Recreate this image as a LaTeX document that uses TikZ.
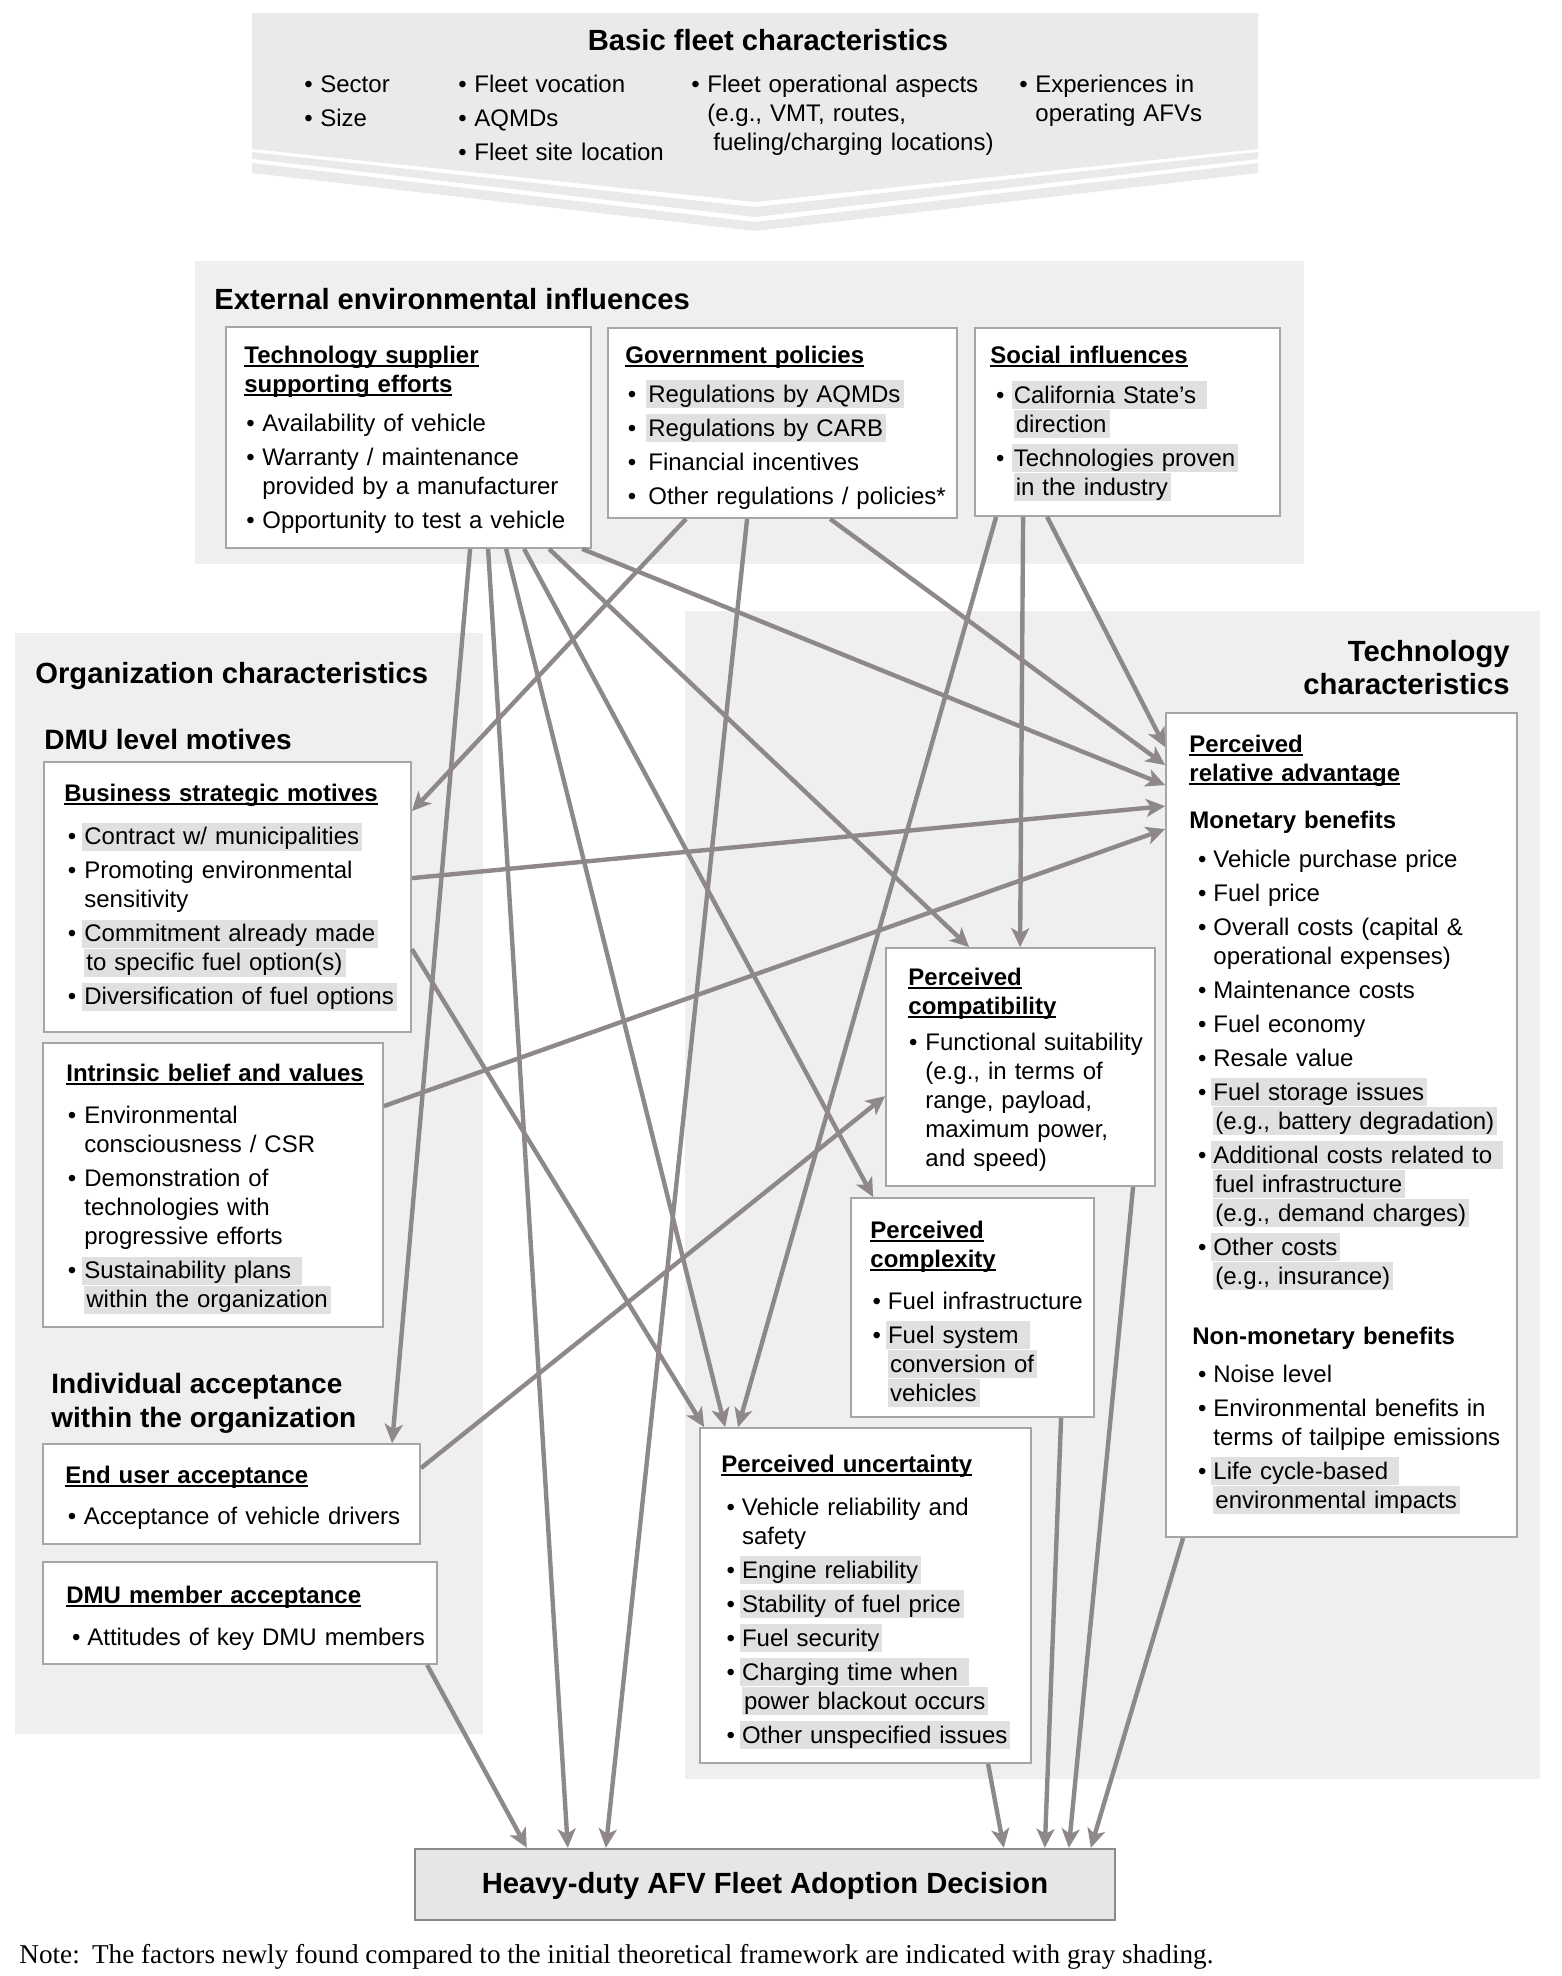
\documentclass[tikz,border=0pt]{standalone}
\usepackage{fontspec}
\setmainfont{Liberation Sans}
\newfontfamily\notefont{Liberation Serif}
\usepackage{graphicx}
\usetikzlibrary{arrows.meta,calc,fit}
\definecolor{panelgray}{HTML}{EFEFEF}
\definecolor{bannergray}{HTML}{EAEAEA}
\definecolor{hlgray}{HTML}{E0E0E0}
\definecolor{boxline}{HTML}{A6A6A6}
\definecolor{arrowgray}{HTML}{8E8888}
\definecolor{decfill}{HTML}{E6E6E6}
\definecolor{decline}{HTML}{8A8A8A}
\newlength\bulind
\newlength\itind
\newcommand\hl[1]{\kern-1pt{\setlength{\fboxsep}{0pt}\colorbox{hlgray}{\rule[-3pt]{0pt}{14pt}\kern1pt#1\kern1.5pt}}\kern-1.5pt}
\newcommand\ulx[1]{\leavevmode\setbox0=\hbox{#1}\rlap{\rule[-2pt]{\wd0}{0.8pt}}\box0}
\newcommand\itmf[1]{\hangindent=\itind\hangafter=1\noindent\hbox to \itind{\hskip\bulind\textbullet\hss}#1}
\newcommand\itm[1]{\par\itmf{#1}}
\newcommand\ttl[1]{\textbf{\ulx{#1}}}
\tikzset{
  panel/.style={fill=panelgray, draw=none, inner sep=0pt},
  box/.style={draw=boxline, line width=0.9pt, fill=white, inner sep=0pt},
  txt/.style={anchor=base west, inner sep=0pt, align=left, font=\fontsize{12}{14.5}\selectfont,
    execute at begin node={\setlength{\parskip}{2.5pt}}},
  head/.style={anchor=base west, inner sep=0pt, font=\bfseries\fontsize{14.6}{17}\selectfont},
  subhead/.style={anchor=base west, inner sep=0pt, font=\bfseries\fontsize{14}{17}\selectfont},
  arr/.style={draw=arrowgray, line width=2.2pt, -{Stealth[length=9.5pt,width=9pt,inset=2.5pt]}},
}
\begin{document}
\begin{tikzpicture}[x=0.5pt,y=-0.5pt]
\useasboundingbox (0,0) rectangle (1562,1976);

% ---------- panels ----------
\node[panel, fit={(195,261) (1304,564)}] (extp) {};
\node[panel, fit={(15,633) (483,1734)}] (orgp) {};
\node[panel, fit={(685,611) (1540,1779)}] (techp) {};

% ---------- banner ----------
\fill[bannergray] (252,13) -- (1258,13) -- (1258,149) -- (755,202) -- (252,149) -- cycle;
\fill[bannergray] (252,152) -- (755,207) -- (1258,152) -- (1258,159) -- (755,217) -- (252,159) -- cycle;
\fill[bannergray] (252,163) -- (755,222) -- (1258,163) -- (1258,173) -- (755,231) -- (252,173) -- cycle;
\node[head, anchor=base] (bfc-h) at (768,50) {Basic fleet characteristics};
\node[txt, text width=120pt] (bfc-c1) at (304,92) {\setlength\bulind{0pt}\setlength\itind{8pt}\itmf{Sector}\itm{Size}\par};
\node[txt, text width=140pt] (bfc-c2) at (458,92) {\setlength\bulind{0pt}\setlength\itind{8pt}\itmf{Fleet vocation}\itm{AQMDs}\itm{Fleet site location}\par};
\node[txt, text width=180pt] (bfc-c3) at (691,92) {\setlength\bulind{0pt}\setlength\itind{8pt}\itmf{Fleet operational aspects\newline(e.g., VMT, routes,\newline\hspace*{3pt}fueling/charging locations)}\par};
\node[txt, text width=120pt] (bfc-c4) at (1019,92) {\setlength\bulind{0pt}\setlength\itind{8pt}\itmf{Experiences in\newline operating AFVs}\par};

% ---------- panel headings ----------
\node[head] (ext-h) at (214,309) {External environmental influences};
\node[head] (org-h) at (35,683) {Organization characteristics};
\node[subhead] (dmu-h) at (44,749) {DMU level motives};
\node[subhead] (ind-h1) at (51,1393) {Individual acceptance};
\node[subhead] (ind-h2) at (51,1427) {within the organization};
\node[head, anchor=base east] (tech-h1) at (1510,661) {Technology};
\node[head, anchor=base east] (tech-h2) at (1510,694) {characteristics};

% ---------- boxes ----------
\node[box, fit={(226,327) (591,548)}] (ts) {};
\node[box, fit={(608,328) (957,518)}] (gp) {};
\node[box, fit={(975,328) (1280,516)}] (si) {};
\node[box, fit={(44,762) (411,1032)}] (bsm) {};
\node[box, fit={(43,1043) (383,1327)}] (ibv) {};
\node[box, fit={(43,1444) (420,1544)}] (eua) {};
\node[box, fit={(43,1562) (437,1664)}] (dmu) {};
\node[box, fit={(1166,713) (1517,1537)}] (pra) {};
\node[box, fit={(886,948) (1155,1186)}] (pco) {};
\node[box, fit={(851,1198) (1094,1417)}] (pcx) {};
\node[box, fit={(700,1428) (1031,1763)}] (pu) {};
\node[fit={(415,1849) (1115,1920)}, draw=decline, fill=decfill, line width=1.2pt, inner sep=0pt] (dec) {};

% ---------- box texts ----------
\node[txt, text width=190pt] (ts-txt) at (244,363) {\setlength\bulind{1pt}\setlength\itind{9pt}%
\ttl{Technology supplier}\newline\ttl{supporting efforts}\par\vspace{2.5pt}%
\itm{Availability of vehicle}%
\itm{Warranty / maintenance\newline provided by a manufacturer}%
\itm{Opportunity to test a vehicle}\par};

\node[txt, text width=185pt] (gp-txt) at (625,363) {\setlength\bulind{1.2pt}\setlength\itind{11.5pt}%
\ttl{Government policies}\par\vspace{2.5pt}%
\itm{\hl{Regulations by AQMDs}}%
\itm{\hl{Regulations by CARB}}%
\itm{Financial incentives}%
\itm{Other regulations / policies*}\par};

\node[txt, text width=170pt] (si-txt) at (990,363) {\setlength\bulind{2.8pt}\setlength\itind{11.7pt}%
\ttl{Social influences}\par\vspace{3pt}%
\itm{\hl{California State’s }\newline\hl{direction}}%
\itm{\hl{Technologies proven}\newline\hl{in the industry}}\par};

\node[txt, text width=190pt] (bsm-txt) at (64,801) {\setlength\bulind{1.8pt}\setlength\itind{10pt}%
\ttl{Business strategic motives}\par\vspace{4.8pt}%
\itm{\hl{Contract w/ municipalities}}%
\itm{Promoting environmental\newline sensitivity}%
\itm{\hl{Commitment already made}\newline\hl{to specific fuel option(s)}}%
\itm{\hl{Diversification of fuel options}}\par};

\node[txt, text width=175pt] (ibv-txt) at (66,1081) {\setlength\bulind{0.8pt}\setlength\itind{9pt}%
\ttl{Intrinsic belief and values}\par\vspace{4.3pt}%
\itm{Environmental\newline consciousness / CSR}%
\itm{Demonstration of\newline technologies with\newline progressive efforts}%
\itm{\hl{Sustainability plans }\newline\hl{within the organization}}\par};

\node[txt, text width=190pt] (eua-txt) at (65,1483) {\setlength\bulind{1.3pt}\setlength\itind{9.3pt}%
\ttl{End user acceptance}\par\vspace{3.5pt}%
\itm{Acceptance of vehicle drivers}\par};

\node[txt, text width=195pt] (dmu-txt) at (66,1603) {\setlength\bulind{2.8pt}\setlength\itind{10.5pt}%
\ttl{DMU member acceptance}\par\vspace{4pt}%
\itm{Attitudes of key DMU members}\par};

\node[txt, text width=175pt] (pra-txt) at (1189,752) {\setlength\bulind{4.3pt}\setlength\itind{12pt}%
\ttl{Perceived}\newline\ttl{relative advantage}\par\vspace{6.5pt}%
\textbf{Monetary benefits}\par\vspace{2.5pt}%
\itm{Vehicle purchase price}%
\itm{Fuel price}%
\itm{Overall costs (capital \&\newline operational expenses)}%
\itm{Maintenance costs}%
\itm{Fuel economy}%
\itm{Resale value}%
\itm{\hl{Fuel storage issues}\newline\hl{(e.g., battery degradation)}}%
\itm{\hl{Additional costs related to }\newline\hl{fuel infrastructure}\newline\hl{(e.g., demand charges)}}%
\itm{\hl{Other costs}\newline\hl{(e.g., insurance)}}\par\vspace{13pt}%
\hspace*{1.5pt}\textbf{Non-monetary benefits}\par\vspace{2pt}%
\itm{Noise level}%
\itm{Environmental benefits in\newline terms of tailpipe emissions}%
\itm{\hl{Life cycle-based }\newline\hl{environmental impacts}}\par};

\node[txt, text width=140pt] (pco-txt) at (908,985) {\setlength\bulind{0.3pt}\setlength\itind{8.5pt}%
\ttl{Perceived}\newline\ttl{compatibility}\par\vspace{1.2pt}%
\itm{Functional suitability\newline(e.g., in terms of\newline range, payload,\newline maximum power,\newline and speed)}\par};

\node[txt, text width=125pt] (pcx-txt) at (870,1238) {\setlength\bulind{1.1pt}\setlength\itind{8.8pt}%
\ttl{Perceived}\newline\ttl{complexity}\par\vspace{4pt}%
\itm{Fuel infrastructure}%
\itm{\hl{Fuel system }\newline\hl{conversion of}\newline\hl{vehicles}}\par};

\node[txt, text width=170pt] (pu-txt) at (721,1472) {\setlength\bulind{2.6pt}\setlength\itind{10.3pt}%
\ttl{Perceived uncertainty}\par\vspace{4.5pt}%
\itm{Vehicle reliability and\newline safety}%
\itm{\hl{Engine reliability}}%
\itm{\hl{Stability of fuel price}}%
\itm{\hl{Fuel security}}%
\itm{\hl{Charging time when }\newline\hl{power blackout occurs}}%
\itm{\hl{Other unspecified issues}}\par};

\node[inner sep=0pt, font=\bfseries\fontsize{14.6}{17}\selectfont] (dec-txt) at ($(dec.center)+(0,1)$) {Heavy-duty AFV Fleet Adoption Decision};

\node[anchor=base west, inner sep=0pt] (note) at (19,1963) {\resizebox{597pt}{!}{\notefont\fontsize{13}{15}\selectfont Note:\hspace{0.45em}The factors newly found compared to the initial theoretical framework are indicated with gray shading.}};

% ---------- connectors ----------
\draw[arr] ($(ts.south west)+(245,0)$) -- ($(eua.north west)+(350,0)$);
\draw[arr] ($(ts.south west)+(263,0)$) -- ($(dec.north west)+(154,0)$);
\draw[arr] ($(ts.south west)+(281,0)$) -- ($(pu.north west)+(26,0)$);
\draw[arr] ($(ts.south west)+(299,0)$) -- ($(pcx.north west)+(23,0)$);
\draw[arr] ($(ts.south west)+(324,0)$) -- ($(pco.north west)+(84,0)$);
\draw[arr] ($(ts.south west)+(357,0)$) -- ($(pra.north west)+(0,73)$);
\draw[arr] ($(gp.south west)+(79,0)$) -- ($(bsm.north east)+(0,50)$);
\draw[arr] ($(gp.south west)+(140,0)$) -- ($(dec.north west)+(192,0)$);
\draw[arr] ($(gp.south west)+(223,0)$) -- ($(pra.north west)+(0,53)$);
\draw[arr] ($(si.south west)+(22,0)$) -- ($(pu.north west)+(39,0)$);
\draw[arr] ($(si.south west)+(49,0)$) -- ($(pco.north west)+(135,0)$);
\draw[arr] ($(si.south west)+(73,0)$) -- ($(pra.north west)+(0,35)$);
\draw[arr] ($(bsm.north east)+(0,117)$) -- ($(pra.north west)+(0,94)$);
\draw[arr] ($(bsm.north east)+(0,188)$) -- ($(pu.north west)+(5,0)$);
\draw[arr] ($(ibv.north east)+(0,64)$) -- ($(pra.north west)+(0,117)$);
\draw[arr] ($(eua.north east)+(0,25)$) -- ($(pco.north west)+(0,149)$);
\draw[arr] ($(dmu.south west)+(385,0)$) -- ($(dec.north west)+(113,0)$);
\draw[arr] ($(pu.south west)+(289,0)$) -- ($(dec.north west)+(590,0)$);
\draw[arr] ($(pcx.south west)+(211,0)$) -- ($(dec.north west)+(631,0)$);
\draw[arr] ($(pco.south west)+(248,0)$) -- ($(dec.north west)+(655,0)$);
\draw[arr] ($(pra.south west)+(18,0)$) -- ($(dec.north west)+(677,0)$);
\end{tikzpicture}
\end{document}
